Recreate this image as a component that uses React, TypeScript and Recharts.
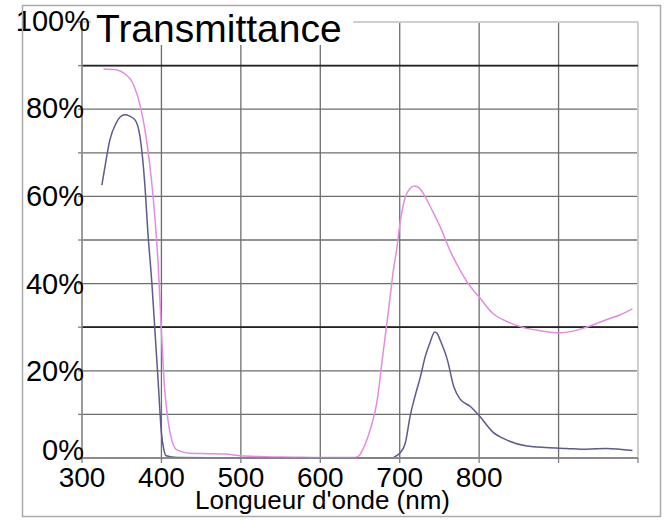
import React from 'react'
import { LineChart, Line, XAxis, YAxis, CartesianGrid, ReferenceLine } from 'recharts'

const lambdaRose = [327, 344, 354, 363, 369, 373, 383, 390, 396, 400, 404, 408, 411, 415, 420, 436, 460, 480, 500, 530, 565, 600, 640, 647, 655, 660, 666, 671, 679, 686, 692, 696, 701, 707, 713, 719, 724, 730, 737, 745, 751, 763, 776, 789, 801, 817, 835, 856, 877, 901, 918, 935, 960, 977, 993]
const tRose = [89.2, 89.0, 88.1, 86.3, 83.6, 81, 70.6, 59, 44, 29, 16, 9, 5.7, 3, 1.8, 1.1, 1.0, 0.9, 0.5, 0.3, 0.2, 0.1, 0.1, 0.3, 2.5, 4.9, 8.5, 12.5, 24, 34, 43, 47.7, 54.6, 59.8, 61.8, 62.4, 62.0, 60.6, 58.2, 55.3, 53, 47.7, 43.1, 39.3, 36.7, 33.2, 31.3, 29.9, 29.2, 28.7, 29.1, 30, 31.7, 32.8, 34.2]

// Courbe bleu-gris
const lambdaBleu = [325, 330, 335, 343, 348, 354, 360, 367, 373, 379, 383, 388, 392, 396, 400, 403, 406, 420, 500, 600, 690, 695, 700, 707, 713, 719, 726, 732, 738, 744, 747, 751, 760, 768, 776, 789, 801, 817, 835, 860, 885, 910, 935, 960, 993]
const tBleu = [62.6, 68, 72.9, 76.8, 78.2, 78.7, 78.4, 77.5, 73.7, 63, 51.6, 40, 28.7, 17.2, 5.7, 2, 0.5, 0.1, 0, 0, 0, 0.4, 1.1, 3.4, 9.5, 14, 18.6, 23.2, 26.4, 28.9, 28.6, 27, 22.5, 16.4, 13.5, 11.8, 9.5, 6, 4.1, 2.75, 2.4, 2.2, 2.0, 2.2, 1.7]

const ticksX = [300, 400, 500, 600, 700, 800, 900, 1000]
const ticksY = [0, 10, 20, 30, 40, 50, 60, 70, 80, 90, 100]

const rose = lambdaRose.map((x, i) => ({ x, t: tRose[i] }))
const bleu = lambdaBleu.map((x, i) => ({ x, t: tBleu[i] }))

const FONT = '"Liberation Sans", Arial, Helvetica, sans-serif'

function TickX({ x, y, payload }: any) {
  if (payload.value > 800) return null
  return (
    <text x={x} y={y} dy={22} textAnchor="middle" fontSize={28} fontFamily={FONT} fill="#000">
      {payload.value}
    </text>
  )
}

function TickY({ x, y, payload }: any) {
  const v = payload.value
  if (v % 20 !== 0) return null
  let dx = 8
  let dy = 10
  if (v === 100) { dx = 14; dy = 9 }
  if (v === 80) dy = 9
  if (v === 0) dy = 2
  return (
    <text x={x + dx} y={y} dy={dy} textAnchor="end" fontSize={29} fontFamily={FONT} fill="#000">
      {v}%
    </text>
  )
}

export default function App() {
  return (
    <div style={{ position: 'absolute', left: 0, top: 0, width: 666, height: 520, background: '#fff' }}>
      <LineChart width={666} height={520} margin={{ top: 22, right: 28, bottom: 0, left: 0 }}>
        <CartesianGrid stroke="#6e6e6e" strokeWidth={1.3} />
        <XAxis
          dataKey="x"
          type="number"
          domain={[300, 1000]}
          ticks={ticksX}
          interval={0}
          height={62}
          tickSize={5}
          tickLine={{ stroke: '#808080', strokeWidth: 1.3 }}
          axisLine={{ stroke: '#8a8a8a', strokeWidth: 1.5 }}
          tick={<TickX />}
          allowDataOverflow
        />
        <YAxis
          type="number"
          domain={[0, 100]}
          ticks={ticksY}
          interval={0}
          width={82}
          tickSize={4}
          tickLine={{ stroke: '#808080', strokeWidth: 1.3 }}
          axisLine={{ stroke: '#999', strokeWidth: 1.3 }}
          tick={<TickY />}
        />
        {/* bords clairs en haut et à droite, lignes foncées à 30 % et 90 % */}
        <ReferenceLine y={100} stroke="#cfcfcf" strokeWidth={2} />
        <ReferenceLine x={1000} stroke="#cfcfcf" strokeWidth={2} />
        <ReferenceLine y={30} stroke="#222" strokeWidth={1.8} />
        <ReferenceLine y={90} stroke="#222" strokeWidth={1.8} />
        <Line data={bleu} dataKey="t" type="monotone" stroke="#5b5b8e" strokeWidth={1.5} dot={false} isAnimationActive={false} />
        <Line data={rose} dataKey="t" type="monotone" stroke="#e38ce2" strokeWidth={1.5} dot={false} isAnimationActive={false} />
      </LineChart>
      <svg width={666} height={520} style={{ position: 'absolute', left: 0, top: 0, pointerEvents: 'none' }}>
        <rect x={22.5} y={5.5} width={638} height={511} fill="none" stroke="#aaa" strokeWidth={1.5} />
        <rect x={91} y={9} width={262} height={36} fill="#fff" />
        <text x={96} y={42} fontSize={39} fontFamily={FONT} fill="#000">Transmittance</text>
        <text x={322.5} y={509} textAnchor="middle" fontSize={26} fontFamily={FONT} fill="#000">Longueur d'onde (nm)</text>
      </svg>
    </div>
  )
}
